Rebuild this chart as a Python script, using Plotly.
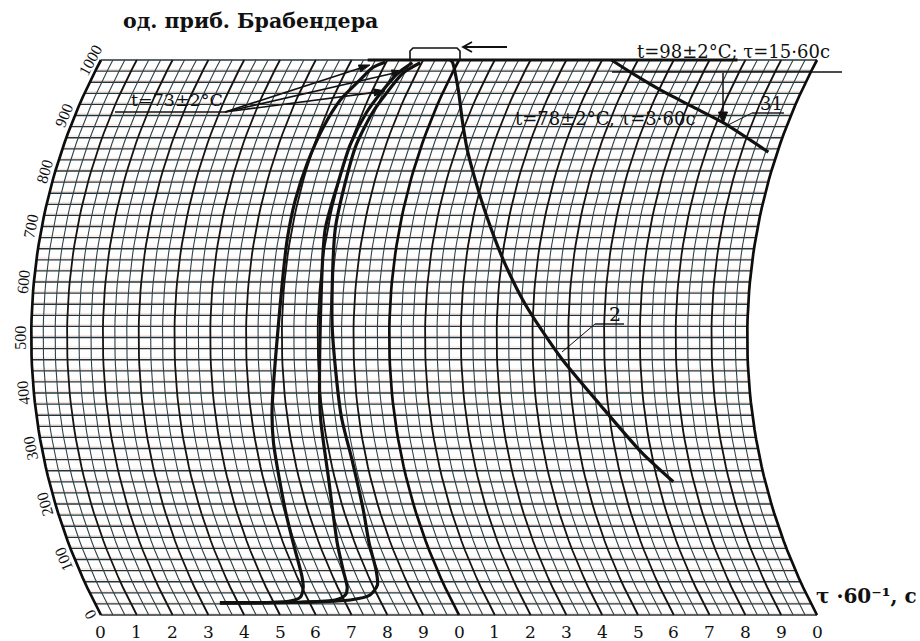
import numpy as np
import plotly.graph_objects as go

# ---- chart paper: time in minutes, viscosity in Brabender units (BU) ----
MINUTES = 20
BU_MAX = 1000
BU_STEP = 20
TIME_SUBDIV = 3

# pen-arm arc of the recorder paper, expressed in minutes / BU
ARC_RADIUS_MIN = 16.397
MIN_PER_BU = 0.015503
BU_MID = 500

tick_minutes = list(range(0, MINUTES + 1))
tick_text = [str(m % 10) for m in tick_minutes]
bu_ticks = list(range(0, BU_MAX + 1, 100))

# ---- recorded curves (time, min ; viscosity, BU) ----
rise_a_t = [3.50, 4.62, 5.48, 5.82, 6.03, 6.14, 6.28, 6.37, 6.50, 6.60, 6.90, 6.92, 6.92, 6.97, 7.07, 7.23, 7.52, 7.71, 7.97]
rise_a_v = [22, 22, 25, 32, 49, 69, 130, 189, 310, 369, 523, 676, 748, 814, 879, 928, 964, 987, 996]

rise_b_t = [3.50, 5.75, 6.76, 7.11, 7.26, 7.37, 7.51, 7.83, 7.93, 8.07, 7.93, 7.99, 8.00, 8.11, 8.30, 8.49, 8.74]
rise_b_v = [22, 23, 27, 36, 49, 81, 130, 249, 360, 523, 694, 778, 847, 905, 946, 977, 995]

rise_c_t = [3.50, 5.75, 7.18, 7.80, 8.14, 8.29, 8.40, 8.55, 8.60, 8.51, 8.40, 8.21, 8.19, 8.17, 8.28, 8.44, 8.63, 8.96]
rise_c_v = [22, 23, 27, 36, 54, 81, 130, 189, 279, 360, 523, 694, 778, 847, 905, 942, 977, 995]

plateau_t = [7.45, 17.78]
plateau_v = [1000, 1000]

curve2_t = [9.75, 9.85, 10.40, 10.87, 11.32, 11.80, 12.38, 13.04, 13.78, 14.77, 15.79, 16.74, 17.43]
curve2_v = [1000, 996, 946, 892, 838, 784, 717, 640, 559, 465, 378, 292, 240]

curve3_t = [14.26, 15.13, 16.04, 17.18, 18.19, 19.75]
curve3_v = [1000, 973, 946, 915, 887, 834]

W, H = 920, 641
SERIF = "DejaVu Serif, Liberation Serif, serif"
SERIF_NARROW = "Liberation Serif, DejaVu Serif, serif"
INK = "#111111"


def arc_shift(v):
    """Horizontal offset (min) of the pen arc at viscosity v."""
    d = (np.asarray(v, dtype=float) - BU_MID) * MIN_PER_BU
    sag = ARC_RADIUS_MIN - np.sqrt(ARC_RADIUS_MIN ** 2 - (BU_MID * MIN_PER_BU) ** 2)
    return ARC_RADIUS_MIN - np.sqrt(ARC_RADIUS_MIN ** 2 - d ** 2) - sag


def chart_x(t, v):
    return np.asarray(t, dtype=float) + arc_shift(v)


def arc_angle(v):
    d = (v - BU_MID) * MIN_PER_BU
    return np.degrees(np.arctan(d / np.sqrt(ARC_RADIUS_MIN ** 2 - d ** 2)))


def paper(xp, yp):
    return xp / W, 1 - yp / H


fig = go.Figure()

# horizontal rulings
hx, hy, ox, oy = [], [], [], []
for v in range(0, BU_MAX + 1, BU_STEP):
    s = float(arc_shift(v))
    hx += [s, MINUTES + s, None]
    hy += [v, v, None]
    if v < BU_MAX:
        vo = v + 3
        so = float(arc_shift(vo))
        ox += [so, MINUTES + so, None]
        oy += [vo, vo, None]
fig.add_trace(go.Scatter(x=ox, y=oy, mode="lines",
                         line=dict(color="rgba(236,150,110,0.35)", width=0.9), hoverinfo="skip"))
fig.add_trace(go.Scatter(x=hx, y=hy, mode="lines",
                         line=dict(color="#25343a", width=1.35), hoverinfo="skip"))

# time arcs
vv = np.linspace(0, BU_MAX, 61)
groups = {"minor": ([], []), "major": ([], []), "heavy": ([], [])}
n_lines = MINUTES * TIME_SUBDIV
for k in range(n_lines + 1):
    m = k / TIME_SUBDIV
    if k % TIME_SUBDIV:
        key = "minor"
    elif int(m) % 10 == 0:
        key = "heavy"
    else:
        key = "major"
    xs, ys = groups[key]
    xs += list(chart_x(np.full_like(vv, m), vv)) + [None]
    ys += list(vv) + [None]
styles = {"minor": ("#2e4148", 1.1), "major": ("#141414", 1.8), "heavy": ("#0d0d0d", 2.7)}
for key, (xs, ys) in groups.items():
    c, w = styles[key]
    fig.add_trace(go.Scatter(x=xs, y=ys, mode="lines", line=dict(color=c, width=w), hoverinfo="skip"))

# recorded curves
for t, v in [(rise_a_t, rise_a_v), (rise_b_t, rise_b_v), (rise_c_t, rise_c_v),
             (plateau_t, plateau_v), (curve2_t, curve2_v), (curve3_t, curve3_v)]:
    fig.add_trace(go.Scatter(x=chart_x(t, v), y=v, mode="lines",
                             line=dict(color=INK, width=3.2, shape="spline", smoothing=0.7),
                             hoverinfo="skip"))

ann = []
# time tick labels along the bottom
for m, txt in zip(tick_minutes, tick_text):
    ann.append(dict(x=m, y=-30, xref="x", yref="y", text=txt, showarrow=False,
                    font=dict(family=SERIF, size=17, color=INK), xanchor="center", yanchor="middle"))
# viscosity labels along the left arc
for v in bu_ticks:
    ann.append(dict(x=float(arc_shift(v)) - 0.31, y=v, xref="x", yref="y", text=str(v), showarrow=False,
                    textangle=-90 + float(arc_angle(v)),
                    font=dict(family=SERIF_NARROW, size=16, color=INK), xanchor="center", yanchor="middle"))


def text(xp, yp, s, size, bold=False):
    x, y = paper(xp, yp)
    ann.append(dict(x=x, y=y, xref="paper", yref="paper", text=f"<b>{s}</b>" if bold else s,
                    showarrow=False, font=dict(family=SERIF, size=size, color=INK),
                    xanchor="center", yanchor="middle"))


text(250, 21, "од. приб. Брабендера", 20.5, bold=True)
text(866, 596, "τ ·60⁻¹, с", 20, bold=True)
text(177, 100, "t=73±2°C", 17.5)
text(733, 51, "t=98±2°C; τ=15·60с", 18)
text(605, 119, "t=78±2°C, τ=3·60с", 18)
text(771, 104, "31", 18)
text(615, 314, "2", 19)

shapes = []


def seg(x0, y0, x1, y1, width=1.4):
    a, b = paper(x0, y0)
    c, d = paper(x1, y1)
    shapes.append(dict(type="line", xref="paper", yref="paper", x0=a, y0=b, x1=c, y1=d,
                       line=dict(color=INK, width=width)))


def poly(pts, fill=True, width=1.4):
    path = "M " + " L ".join(f"{paper(x, y)[0]:.5f},{paper(x, y)[1]:.5f}" for x, y in pts)
    if fill:
        path += " Z"
    shapes.append(dict(type="path", xref="paper", yref="paper", path=path,
                       fillcolor=INK if fill else None, line=dict(color=INK, width=1 if fill else width)))


def arrow(hx_, hy_, tx, ty, length=11, half=3.6, width=1.6, open_head=False):
    d = np.array([hx_ - tx, hy_ - ty], dtype=float)
    u = d / np.hypot(*d)
    n = np.array([-u[1], u[0]])
    head = np.array([hx_, hy_], dtype=float)
    base = head - length * u
    if open_head:
        seg(tx, ty, hx_, hy_, width)
        p1, p2 = base + half * n, base - half * n
        poly([tuple(p1), (hx_, hy_), tuple(p2)], fill=False, width=width)
    else:
        seg(tx, ty, *(head - 0.6 * length * u), width)
        p1, p2 = base + half * n, base - half * n
        poly([(hx_, hy_), tuple(p1), tuple(p2)])


seg(115, 112, 225, 112)
seg(612, 72, 842, 72)
seg(752, 113, 784, 113)
seg(752, 113, 728, 125, 1)
seg(595, 324, 624, 324)
seg(595, 324, 562, 352, 1)

arrow(370, 65, 225, 112)
arrow(403, 71, 225, 112)
arrow(385, 91, 225, 112)
arrow(723, 124, 723, 73, length=12, half=4.5, width=1.5)
arrow(463, 47, 507, 47, length=9, half=5, width=1.8, open_head=True)

# bracket above the peak
poly([(410, 60), (410, 51), (413, 48), (457, 48), (460, 51), (460, 60)], fill=False, width=1.6)

fig.update_layout(
    width=W, height=H, autosize=False,
    margin=dict(l=0, r=0, t=0, b=0, pad=0),
    paper_bgcolor="white", plot_bgcolor="white",
    showlegend=False,
    xaxis=dict(range=[-2.821, 22.877], visible=False, fixedrange=True),
    yaxis=dict(range=[-46.85, 1108.1], visible=False, fixedrange=True),
    annotations=ann, shapes=shapes,
)

fig.write_html("out.html")
